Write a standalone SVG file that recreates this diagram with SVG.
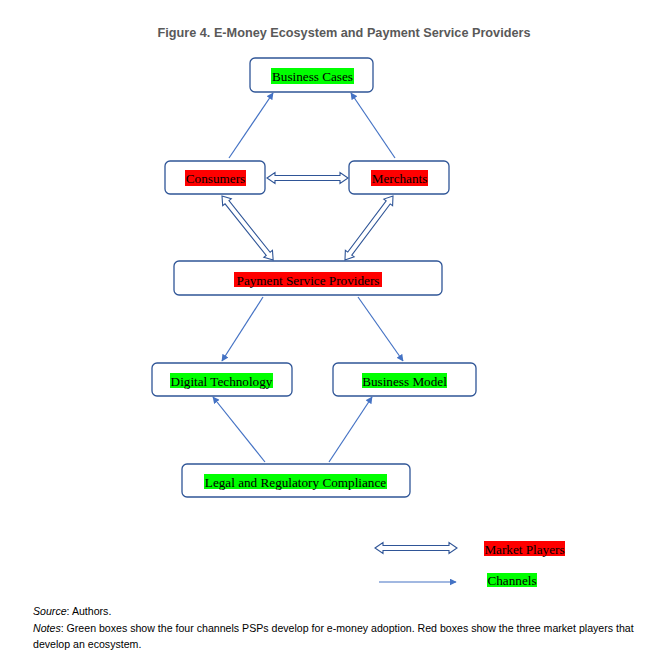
<svg xmlns="http://www.w3.org/2000/svg" width="645" height="656" viewBox="0 0 645 656">
<style>
.box{fill:#fff;stroke:#2f5597;stroke-width:1.3}
.lbl{font-family:"Liberation Serif","Times New Roman",serif;font-size:13.2px;fill:#000;text-anchor:middle}
.g{fill:#00ff00}
.r{fill:#ff0000}
.arr{stroke:#4472c4;stroke-width:1.2;fill:none;marker-end:url(#ah)}
.dbl{fill:#fff;stroke:#2f5597;stroke-width:1.1;stroke-linejoin:miter}
.ft{font-family:"Liberation Sans",Arial,sans-serif;font-size:10.6px;fill:#000}
</style>
<defs>
<marker id="ah" viewBox="0 0 10 10" refX="9" refY="5" markerWidth="7" markerHeight="7" markerUnits="userSpaceOnUse" orient="auto">
<path d="M0,0 L10,5 L0,10 Z" fill="#4472c4"/>
</marker>
</defs>
<text x="344" y="37" font-family="Liberation Sans,Arial,sans-serif" font-size="12.7" font-weight="bold" fill="#595959" text-anchor="middle">Figure 4. E-Money Ecosystem and Payment Service Providers</text>

<g id="connectors">
<line class="arr" x1="229" y1="158" x2="273" y2="93"/>
<line class="arr" x1="395" y1="158" x2="351" y2="93"/>
<line class="arr" x1="263" y1="297" x2="222" y2="361"/>
<line class="arr" x1="358" y1="297" x2="403" y2="361"/>
<line class="arr" x1="265" y1="462" x2="213" y2="397"/>
<line class="arr" x1="329" y1="462" x2="372" y2="397"/>
<path class="dbl" transform="translate(267,178)" d="M0,0 L8,-5.5 L8,-2.5 L73,-2.5 L73,-5.5 L81,0 L73,5.5 L73,2.5 L8,2.5 L8,5.5 Z"/>
<path class="dbl" transform="translate(222,196) rotate(51.4)" d="M0,0 L8,-5.5 L8,-2.5 L74,-2.5 L74,-5.5 L82,0 L74,5.5 L74,2.5 L8,2.5 L8,5.5 Z"/>
<path class="dbl" transform="translate(393,196) rotate(126.9)" d="M0,0 L8,-5.5 L8,-2.5 L72,-2.5 L72,-5.5 L80,0 L72,5.5 L72,2.5 L8,2.5 L8,5.5 Z"/>
</g>

<g id="business-cases">
<rect class="box" x="250" y="58" width="123" height="34" rx="5"/>
<rect class="g" x="271" y="68" width="83" height="16"/>
<text class="lbl" x="312.5" y="81">Business Cases</text>
</g>
<g id="consumers">
<rect class="box" x="165" y="161" width="100" height="33" rx="5"/>
<rect class="r" x="185" y="170" width="61" height="16"/>
<text class="lbl" x="215.5" y="183">Consumers</text>
</g>
<g id="merchants">
<rect class="box" x="349" y="161" width="100" height="33" rx="5"/>
<rect class="r" x="371" y="170" width="57" height="16"/>
<text class="lbl" x="399.5" y="183">Merchants</text>
</g>
<g id="psp">
<rect class="box" x="174" y="261" width="268" height="34" rx="5"/>
<rect class="r" x="234" y="272" width="148" height="15"/>
<text class="lbl" x="308" y="284.5">Payment Service Providers</text>
</g>
<g id="digital-technology">
<rect class="box" x="152" y="363" width="140" height="33" rx="5"/>
<rect class="g" x="170" y="373" width="103" height="15"/>
<text class="lbl" x="221.5" y="385.5">Digital Technology</text>
</g>
<g id="business-model">
<rect class="box" x="333" y="363" width="143" height="33" rx="5"/>
<rect class="g" x="362" y="373" width="85" height="15"/>
<text class="lbl" x="404.5" y="385.5">Business Model</text>
</g>
<g id="legal">
<rect class="box" x="182" y="464" width="228" height="33" rx="5"/>
<rect class="g" x="204" y="474" width="183" height="15"/>
<text class="lbl" x="295.5" y="486.5">Legal and Regulatory Compliance</text>
</g>

<g id="legend">
<path class="dbl" transform="translate(375,548)" d="M0,0 L8,-5.5 L8,-2.5 L74,-2.5 L74,-5.5 L82,0 L74,5.5 L74,2.5 L8,2.5 L8,5.5 Z"/>
<rect class="r" x="484" y="541" width="81" height="15"/>
<text class="lbl" x="524.5" y="553.5">Market Players</text>
<line class="arr" x1="379" y1="582" x2="456" y2="582"/>
<rect class="g" x="487" y="573" width="50" height="14"/>
<text class="lbl" x="512" y="585">Channels</text>
</g>

<text class="ft" x="33" y="615"><tspan font-style="italic">Source</tspan>: Authors.</text>
<text class="ft" x="33" y="632"><tspan font-style="italic">Notes</tspan>: Green boxes show the four channels PSPs develop for e-money adoption. Red boxes show the three market players that</text>
<text class="ft" x="33" y="648">develop an ecosystem.</text>
</svg>
